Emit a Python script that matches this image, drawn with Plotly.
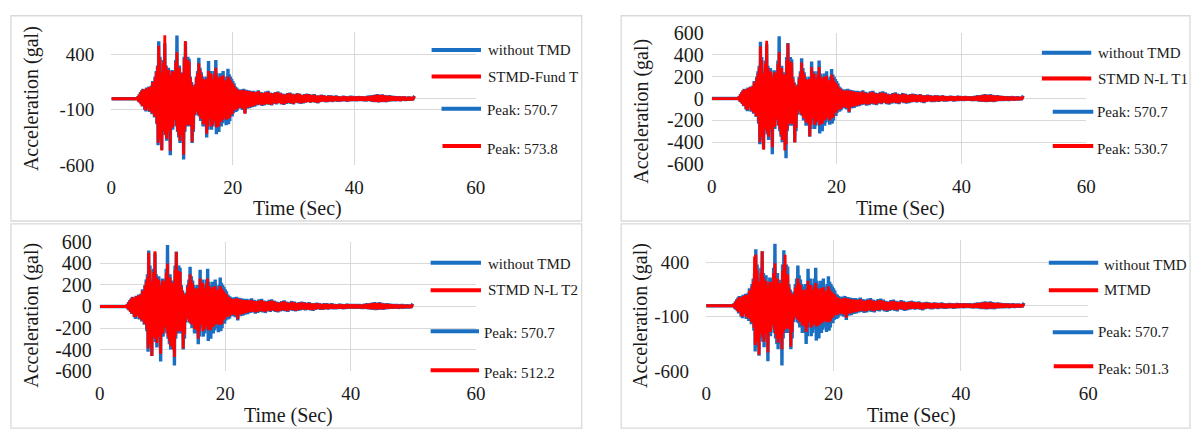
import plotly.graph_objects as go

W, H = 1202, 441

# ---------------- data ----------------
T = [0,
     4.3, 4.4, 4.5, 4.6, 4.7, 4.8, 4.9,
     5.0, 5.1, 5.2, 5.3, 5.4, 5.5, 5.6, 5.7, 5.8, 5.9,
     6.0, 6.1, 6.2, 6.3, 6.4, 6.5, 6.6, 6.7, 6.8, 6.9,
     7.0, 7.1, 7.2, 7.3, 7.4, 7.5, 7.6, 7.7, 7.8, 7.9,
     8.0, 8.1, 8.2, 8.3, 8.4, 8.5, 8.6, 8.7, 8.8, 8.9,
     9.0, 9.1, 9.2, 9.3, 9.4, 9.5, 9.6, 9.7, 9.8, 9.9,
     10.0, 10.1, 10.2, 10.3, 10.4, 10.5, 10.6, 10.7, 10.8, 10.9,
     11.0, 11.1, 11.2, 11.3, 11.4, 11.5, 11.6, 11.7, 11.8, 11.9,
     12.0, 12.1, 12.2, 12.3, 12.4, 12.5, 12.6, 12.7, 12.8, 12.9,
     13.0, 13.1, 13.2, 13.3, 13.4, 13.5, 13.6, 13.7, 13.8, 13.9,
     14.0, 14.1, 14.2, 14.3, 14.4, 14.5, 14.6, 14.7, 14.8, 14.9,
     15.0, 15.1, 15.2, 15.3, 15.4, 15.5, 15.6, 15.7, 15.8, 15.9,
     16.0, 16.1, 16.2, 16.3, 16.4, 16.5, 16.6, 16.7, 16.8, 16.9,
     17.0, 17.1, 17.2, 17.3, 17.4, 17.5, 17.6, 17.7, 17.8, 17.9,
     18.0, 18.1, 18.2, 18.3, 18.4, 18.5, 18.6, 18.7, 18.8, 18.9,
     19.0, 19.1, 19.2, 19.3, 19.4, 19.5, 19.6, 19.7, 19.8, 19.9,
     20.0, 20.1, 20.2, 20.3, 20.4, 20.5, 20.6, 20.7, 20.8, 20.9,
     21.0,
     21.2, 21.4, 21.6, 21.8, 22.0, 22.2, 22.4, 22.6, 22.8, 23.0,
     23.2, 23.4, 23.6, 23.8, 24.0, 24.2, 24.4, 24.6, 24.8, 25.0,
     25.2, 25.4, 25.6, 25.8, 26.0, 26.2, 26.4, 26.6, 26.8, 27.0,
     27.2, 27.4, 27.6, 27.8, 28.0, 28.2, 28.4, 28.6, 28.8, 29.0,
     29.2, 29.4, 29.6, 29.8, 30.0, 30.2, 30.4, 30.6, 30.8, 31.0,
     31.2, 31.4, 31.6, 31.8, 32.0, 32.2, 32.4, 32.6, 32.8, 33.0,
     33.2, 33.4, 33.6, 33.8, 34.0, 34.2, 34.4, 34.6, 34.8, 35.0,
     35.2, 35.4, 35.6, 35.8, 36.0, 36.2, 36.4, 36.6, 36.8, 37.0,
     37.2, 37.4, 37.6, 37.8, 38.0, 38.2, 38.4, 38.6, 38.8, 39.0,
     39.2, 39.4, 39.6, 39.8, 40.0, 40.2, 40.4, 40.6, 40.8, 41.0,
     41.2, 41.4, 41.6, 41.8, 42.0, 42.2, 42.4, 42.6, 42.8, 43.0,
     43.2, 43.4, 43.6, 43.8, 44.0, 44.2, 44.4, 44.6, 44.8, 45.0,
     45.2, 45.4, 45.6, 45.8, 46.0, 46.2, 46.4, 46.6, 46.8, 47.0,
     47.2, 47.4, 47.6, 47.8, 48.0, 48.2, 48.4, 48.6, 48.8, 49.0,
     49.2, 49.4, 49.6, 49.8, 50.0]

without_tmd = [0,
     0, 20, -25, 40, -35, 60, -50,
     75, -70, 90, -60, 85, -100, 70, -115, 100, -85,
     95, -80, 110, -120, 90, -100, 120, -140, 160, -130,
     150, -170, 200, -160, 250, -230, 300, -420, 520, -380,
     380, -300, 200, -460, 250, -200, 350, -300, 500, -330,
     300, -380, 200, -250, 280, -300, 150, -510, 220, -200,
     260, -280, 180, -150, 250, -200, 350, -250, 570.7, -300,
     260, -350, 300, -400, 200, -280, 240, -350, 150, -548,
     380, -300, 510, -250, 300, -200, 380, -250, 360, -220,
     200, -250, 150, -400, 120, -300, 100, -150, 130, -120,
     200, -100, 250, -150, 370, -160, 280, -200, 240, -180,
     200, -250, 150, -200, 180, -250, 200, -350, 150, -280,
     340, -200, 250, -180, 250, -280, 180, -250, 200, -220,
     250, -200, 350, -320, 230, -270, 200, -300, 180, -200,
     230, -250, 200, -220, 250, -200, 160, -200, 180, -240,
     200, -180, 270, -230, 220, -200, 200, -150, 180, -160,
     160, -130, 140, -120, 110, -120, 100, -110, 90, -90,
     80,
     -90, 85, -100, 90, -130, 80, -90, 75, -85, 70,
     -75, 70, -70, 65, -60, 75, -55, 60, -65, 55,
     -60, 65, -50, 70, -55, 55, -60, 50, -45, 60,
     -50, 65, -40, 55, -50, 45, -55, 40, -45, 50,
     -40, 55, -45, 45, -50, 40, -35, 50, -40, 45,
     -45, 35, -40, 40, -35, 45, -30, 40, -35, 35,
     -30, 40, -35, 30, -40, 30, -30, 35, -25, 30,
     -30, 25, -30, 30, -25, 28, -28, 25, -22, 28,
     -25, 22, -25, 20, -22, 25, -20, 22, -25, 20,
     -22, 25, -20, 22, -18, 20, -20, 22, -18, 20,
     -18, 20, -20, 18, -22, 25, -20, 28, -25, 30,
     -28, 35, -30, 40, -32, 35, -30, 38, -28, 32,
     -30, 28, -25, 30, -22, 25, -20, 22, -20, 20,
     -18, 20, -20, 18, -16, 20, -18, 16, -15, 18,
     -15, 14, -12, 12, 5]

stmd_fund_t = [0,
     0, 20, -25, 38, -33, 55, -48,
     70, -65, 85, -58, 80, -95, 68, -105, 95, -80,
     90, -75, 105, -110, 85, -95, 110, -130, 150, -120,
     140, -160, 190, -150, 240, -220, 290, -400, 478, -360,
     360, -290, 190, -467, 240, -190, 330, -290, 573.8, -320,
     290, -360, 190, -240, 260, -290, 140, -470, 210, -190,
     250, -260, 170, -140, 240, -190, 330, -240, 420, -290,
     250, -330, 280, -380, 190, -270, 230, -330, 140, -505,
     360, -280, 522, -240, 280, -190, 350, -240, 330, -210,
     190, -240, 140, -390, 110, -280, 95, -140, 120, -110,
     190, -90, 230, -140, 320, -150, 260, -180, 220, -170,
     180, -230, 140, -190, 170, -230, 180, -316, 140, -250,
     250, -180, 220, -160, 230, -250, 170, -230, 180, -200,
     220, -180, 280, -260, 200, -220, 180, -250, 160, -180,
     200, -210, 180, -190, 210, -170, 150, -170, 160, -190,
     170, -150, 200, -180, 190, -170, 170, -130, 150, -140,
     130, -110, 120, -100, 95, -100, 90, -95, 80, -80,
     70,
     -80, 75, -90, 80, -135, 72, -80, 68, -76, 62,
     -68, 62, -62, 58, -54, 68, -50, 54, -58, 50,
     -54, 58, -45, 62, -50, 50, -54, 45, -40, 54,
     -45, 58, -36, 50, -45, 40, -50, 36, -40, 45,
     -36, 50, -40, 40, -45, 36, -32, 45, -36, 40,
     -40, 32, -36, 36, -32, 40, -27, 36, -32, 32,
     -27, 36, -32, 27, -36, 27, -27, 32, -22, 27,
     -27, 22, -27, 27, -22, 25, -25, 22, -20, 25,
     -22, 20, -22, 18, -20, 22, -18, 20, -22, 18,
     -20, 22, -18, 20, -16, 18, -18, 20, -16, 18,
     -16, 18, -18, 16, -20, 22, -18, 25, -22, 27,
     -25, 32, -27, 36, -29, 32, -27, 34, -25, 29,
     -27, 25, -22, 27, -20, 22, -18, 20, -18, 18,
     -16, 18, -18, 16, -14, 18, -16, 14, -14, 16,
     -14, 13, -11, 11, 5]

stmd_nl_t1 = [0,
     0, 20, -25, 38, -33, 55, -48,
     70, -65, 85, -58, 80, -95, 68, -105, 95, -80,
     90, -75, 105, -110, 85, -95, 110, -130, 150, -120,
     140, -160, 190, -150, 230, -210, 280, -400, 480, -350,
     350, -280, 190, -470, 230, -190, 320, -280, 530.7, -310,
     280, -350, 190, -230, 250, -280, 140, -447, 200, -190,
     240, -260, 170, -140, 230, -190, 320, -240, 424, -280,
     240, -330, 280, -380, 190, -260, 220, -476, 140, -420,
     350, -280, 505, -230, 280, -190, 340, -230, 330, -200,
     180, -230, 140, -404, 110, -270, 95, -140, 120, -110,
     180, -90, 230, -140, 330, -150, 250, -180, 220, -170,
     180, -220, 140, -190, 170, -230, 180, -346, 140, -240,
     290, -180, 220, -160, 230, -240, 170, -220, 180, -200,
     220, -180, 290, -244, 200, -220, 180, -230, 160, -180,
     200, -200, 180, -190, 210, -170, 150, -170, 160, -200,
     170, -150, 220, -180, 190, -170, 160, -120, 150, -130,
     130, -110, 120, -100, 95, -100, 90, -95, 80, -80,
     70,
     -78, 72, -85, 76, -120, 70, -76, 65, -72, 60,
     -64, 60, -60, 55, -52, 64, -47, 52, -55, 47,
     -52, 55, -43, 60, -47, 47, -52, 43, -38, 52,
     -43, 55, -34, 47, -43, 38, -47, 34, -38, 43,
     -34, 47, -38, 38, -43, 34, -30, 43, -34, 38,
     -38, 30, -34, 34, -30, 38, -26, 34, -30, 30,
     -26, 34, -30, 26, -34, 26, -26, 30, -21, 26,
     -26, 21, -26, 26, -21, 24, -24, 21, -19, 24,
     -21, 19, -21, 17, -19, 21, -17, 19, -21, 17,
     -19, 21, -17, 19, -15, 17, -17, 19, -15, 17,
     -15, 17, -17, 15, -19, 21, -17, 24, -21, 26,
     -24, 30, -26, 34, -27, 30, -26, 32, -24, 27,
     -26, 24, -21, 26, -19, 21, -17, 19, -17, 17,
     -15, 17, -17, 15, -14, 17, -15, 14, -13, 15,
     -13, 12, -10, 10, 5]

stmd_nl_t2 = [0,
     0, 20, -25, 38, -33, 55, -48,
     70, -65, 85, -58, 80, -95, 68, -100, 95, -80,
     90, -75, 105, -110, 85, -95, 110, -130, 145, -120,
     140, -160, 190, -150, 230, -210, 270, -390, 500, -350,
     340, -280, 190, -460, 230, -190, 320, -280, 512.2, -300,
     270, -340, 190, -230, 250, -280, 140, -440, 200, -190,
     240, -250, 170, -140, 230, -190, 310, -230, 400, -280,
     240, -320, 270, -370, 190, -260, 220, -400, 140, -470,
     340, -270, 505, -230, 270, -190, 330, -230, 320, -200,
     180, -230, 140, -390, 110, -260, 95, -140, 120, -110,
     180, -90, 220, -140, 300, -150, 240, -170, 210, -160,
     170, -210, 140, -180, 160, -220, 170, -300, 140, -230,
     260, -170, 210, -160, 220, -230, 160, -210, 170, -190,
     210, -170, 260, -220, 190, -200, 170, -220, 150, -170,
     180, -190, 170, -170, 190, -160, 140, -160, 150, -170,
     160, -140, 190, -170, 170, -160, 150, -110, 140, -120,
     120, -100, 110, -95, 90, -95, 85, -90, 75, -75,
     65,
     -76, 70, -83, 75, -118, 68, -75, 63, -70, 58,
     -62, 58, -58, 54, -50, 62, -46, 50, -54, 46,
     -50, 54, -42, 58, -46, 46, -50, 42, -37, 50,
     -42, 54, -33, 46, -42, 37, -46, 33, -37, 42,
     -33, 46, -37, 37, -42, 33, -29, 42, -33, 37,
     -37, 29, -33, 33, -29, 37, -25, 33, -29, 29,
     -25, 33, -29, 25, -33, 25, -25, 29, -20, 25,
     -25, 20, -25, 25, -20, 23, -23, 20, -18, 23,
     -20, 18, -20, 16, -18, 20, -16, 18, -20, 16,
     -18, 20, -16, 18, -14, 16, -16, 18, -14, 16,
     -14, 16, -16, 14, -18, 20, -16, 23, -20, 25,
     -23, 29, -25, 33, -26, 29, -25, 31, -23, 26,
     -25, 23, -20, 25, -18, 20, -16, 18, -16, 16,
     -14, 16, -16, 14, -13, 16, -14, 13, -12, 14,
     -12, 11, -10, 10, 5]

mtmd = [0,
     0, 18, -22, 35, -30, 50, -45,
     65, -60, 80, -55, 75, -90, 62, -100, 90, -75,
     85, -70, 100, -105, 80, -90, 100, -120, 140, -115,
     130, -150, 180, -140, 220, -200, 453, -360, 470, -330,
     330, -270, 180, -450, 220, -180, 300, -260, 501.3, -290,
     260, -330, 180, -220, 230, -260, 130, -430, 190, -180,
     220, -240, 160, -130, 220, -180, 300, -220, 390, -260,
     220, -300, 250, -340, 180, -240, 210, -300, 130, -400,
     320, -250, 380, -220, 468, -180, 290, -210, 290, -190,
     170, -210, 130, -377, 100, -240, 90, -130, 110, -100,
     160, -80, 190, -120, 250, -130, 210, -150, 190, -140,
     150, -180, 120, -160, 140, -190, 150, -240, 120, -200,
     230, -150, 180, -140, 190, -200, 140, -180, 150, -170,
     180, -150, 210, -190, 160, -170, 150, -180, 130, -150,
     160, -160, 150, -150, 170, -140, 120, -140, 130, -150,
     140, -120, 180, -150, 150, -140, 130, -100, 120, -110,
     110, -90, 100, -85, 80, -85, 75, -80, 70, -70,
     60,
     -72, 68, -80, 72, -110, 65, -72, 60, -68, 56,
     -60, 56, -56, 52, -48, 60, -44, 48, -52, 44,
     -48, 52, -40, 56, -44, 44, -48, 40, -36, 48,
     -40, 52, -32, 44, -40, 36, -44, 32, -36, 40,
     -32, 44, -36, 36, -40, 32, -28, 40, -32, 36,
     -36, 28, -32, 32, -28, 36, -24, 32, -28, 28,
     -24, 32, -28, 24, -32, 24, -24, 28, -20, 24,
     -24, 20, -24, 24, -20, 22, -22, 20, -18, 22,
     -20, 18, -20, 16, -18, 20, -16, 18, -20, 16,
     -18, 20, -16, 18, -14, 16, -16, 18, -14, 16,
     -14, 16, -16, 14, -18, 20, -16, 22, -20, 24,
     -22, 28, -24, 32, -26, 28, -24, 30, -22, 26,
     -24, 22, -20, 24, -18, 20, -16, 18, -16, 16,
     -14, 16, -16, 14, -13, 16, -14, 13, -12, 14,
     -12, 11, -10, 10, 5]

red_data = [stmd_fund_t, stmd_nl_t1, stmd_nl_t2, mtmd]
for s in [without_tmd] + red_data:
    if len(s) != len(T):
        raise SystemExit("length mismatch %d vs %d" % (len(s), len(T)))

panel_series = ["STMD-Fund T", "STMD N-L T1", "STMD N-L T2", "MTMD"]
panel_peaks_red = ["Peak: 573.8", "Peak: 530.7", "Peak: 512.2", "Peak: 501.3"]
peak_blue = "Peak: 570.7"

x_ticks = [0, 20, 40, 60]
y_ticks_coarse = [-600, -100, 400]
y_ticks_fine = [-600, -400, -200, 0, 200, 400, 600]

# ---------------- styling / layout ----------------
BLUE = "#1B6FC2"
RED = "#FF0000"
GRID = "#D9D9D9"
TXT = "#1a1a1a"
FONT = "Liberation Serif"

def px(x):
    return x / W

def py(y):
    return 1 - y / H

# plot-area pixel boxes (left, right, top, bottom)
boxes = [(107.7, 476.7, 22.4, 162.3),
         (715.7, 1094.9, 23.3, 161.0),
         (96.0, 477.0, 243.0, 379.0),
         (710.0, 1097.0, 241.5, 379.0)]
fine = [False, True, True, False]
ystand = [16, 7, 7, 16]
ysize = [19, 20, 20, 19]

frames = [(6, 584, 5, 221), (624, 1200, 5, 221), (6, 584, 224, 439), (624, 1200, 224, 439)]

ytitle_pos = [(27, 92), (645, 105), (26, 320), (643, 320)]
xtitle_pos = [(296, 208), (907, 208), (287, 426), (918, 426)]

# legend-like labels: (line x0, x1, y, text x, text y)
leg = [
    [(432, 482, 41, 487, 41), (432, 482, 69, 487, 69), (442, 482, 103, 486, 104), (443, 482, 142, 486, 145)],
    [(1050, 1100, 44, 1105, 44), (1050, 1100, 71, 1105, 72), (1061, 1102, 106, 1104, 106), (1061, 1102, 142, 1104, 145)],
    [(431, 482, 265, 487, 266), (431, 482, 294, 487, 294), (431, 480, 337, 483, 339), (431, 480, 378, 483, 381)],
    [(1057, 1107, 265, 1111, 267), (1057, 1107, 294, 1111, 294), (1061, 1102, 338, 1105, 338), (1062, 1102, 374, 1105, 377)],
]

fig = go.Figure()
shapes = []
annotations = []

for i in range(4):
    n = "" if i == 0 else str(i + 1)
    xa, ya = "x" + n, "y" + n
    fig.add_trace(go.Scatter(x=T, y=without_tmd, mode="lines", xaxis=xa, yaxis=ya,
                             line=dict(color=BLUE, width=3.4), name="without TMD",
                             showlegend=False))
    fig.add_trace(go.Scatter(x=T, y=red_data[i], mode="lines", xaxis=xa, yaxis=ya,
                             line=dict(color=RED, width=2.8), name=panel_series[i],
                             showlegend=False))
    l, r, t, b = boxes[i]
    yt = y_ticks_fine if fine[i] else y_ticks_coarse
    fig.layout["xaxis" + n] = dict(domain=[px(l), px(r)], anchor=ya, range=[0, 60],
                                   tickvals=x_ticks, ticktext=[str(v) for v in x_ticks],
                                   showgrid=True, gridcolor=GRID, gridwidth=1.3,
                                   zeroline=False, showline=False, ticks="",
                                   ticklabelstandoff=9,
                                   tickfont=dict(family=FONT, size=19, color=TXT))
    fig.layout["yaxis" + n] = dict(domain=[py(b), py(t)], anchor=xa, range=[-600, 600],
                                   tickvals=yt, ticktext=[str(v) for v in yt],
                                   showgrid=True, gridcolor=GRID, gridwidth=1.3,
                                   zeroline=not fine[i], zerolinecolor=GRID, zerolinewidth=1.3,
                                   showline=False, ticks="",
                                   ticklabelstandoff=ystand[i],
                                   tickfont=dict(family=FONT, size=ysize[i], color=TXT))
    fx0, fx1, fy0, fy1 = frames[i]
    shapes.append(dict(type="rect", xref="paper", yref="paper",
                       x0=px(fx0), x1=px(fx1), y0=py(fy1), y1=py(fy0),
                       line=dict(color=GRID, width=1.3), fillcolor="rgba(0,0,0,0)", layer="below"))
    ax_, ay_ = ytitle_pos[i]
    annotations.append(dict(text="Acceleration (gal)", xref="paper", yref="paper",
                            x=px(ax_), y=py(ay_), showarrow=False, textangle=-90,
                            xanchor="center", yanchor="middle",
                            font=dict(family=FONT, size=20, color=TXT)))
    tx_, ty_ = xtitle_pos[i]
    annotations.append(dict(text="Time (Sec)", xref="paper", yref="paper",
                            x=px(tx_), y=py(ty_), showarrow=False,
                            xanchor="center", yanchor="middle",
                            font=dict(family=FONT, size=20, color=TXT)))
    labels = ["without TMD", panel_series[i], peak_blue, panel_peaks_red[i]]
    colors = [BLUE, RED, BLUE, RED]
    for (lx0, lx1, ly, tx, ty), lab, col in zip(leg[i], labels, colors):
        shapes.append(dict(type="line", xref="paper", yref="paper",
                           x0=px(lx0), x1=px(lx1), y0=py(ly), y1=py(ly),
                           line=dict(color=col, width=4)))
        annotations.append(dict(text=lab, xref="paper", yref="paper",
                                x=px(tx), y=py(ty), showarrow=False,
                                xanchor="left", yanchor="middle",
                                font=dict(family=FONT, size=15, color=TXT)))

fig.update_layout(width=W, height=H, margin=dict(l=0, r=0, t=0, b=0),
                  paper_bgcolor="white", plot_bgcolor="white",
                  showlegend=False, shapes=shapes, annotations=annotations)

fig.write_html("out.html")
